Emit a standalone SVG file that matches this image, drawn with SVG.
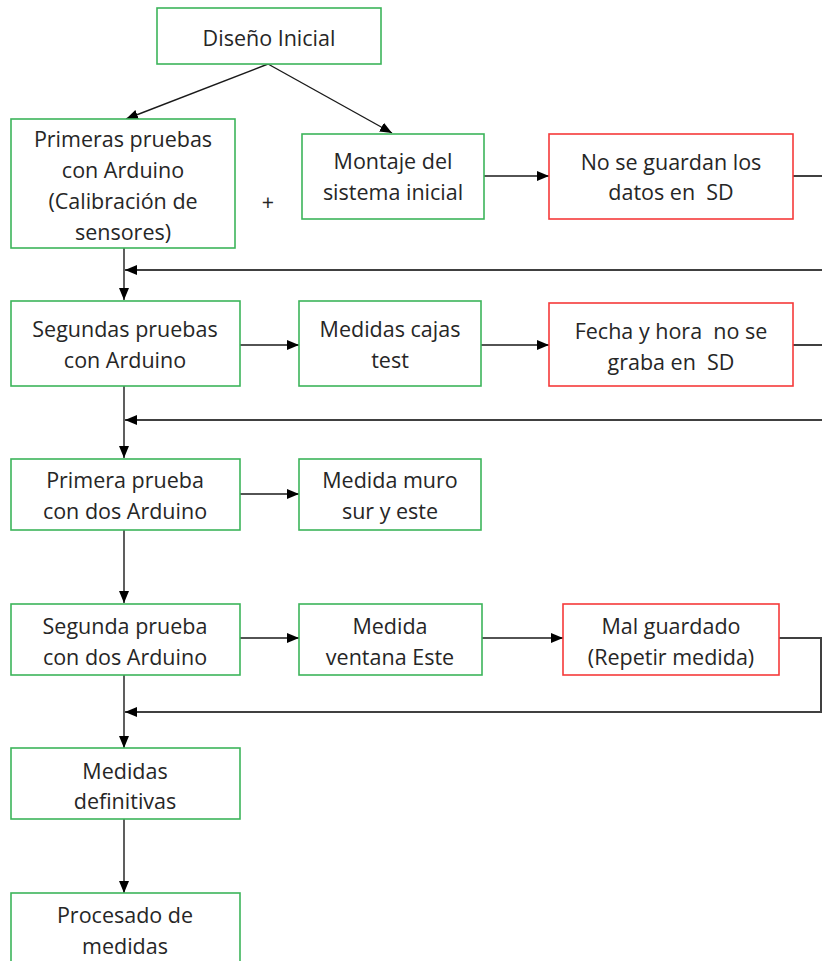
<svg xmlns="http://www.w3.org/2000/svg" width="822" height="961" viewBox="0 0 822 961">
<style>
.g{fill:#fff;stroke:#3cb55a;stroke-width:1.6}
.r{fill:#fff;stroke:#f53a3a;stroke-width:1.6}
text{font-family:"Open Sans","Liberation Sans",Arial,sans-serif;font-size:21.5px;fill:#262626;text-anchor:middle;dominant-baseline:central}
.c{fill:none;stroke:#1a1a1a;stroke-width:1.4}
.f{fill:none;stroke:#404040;stroke-width:2}
</style>
<defs>
<marker id="a" markerUnits="userSpaceOnUse" markerWidth="12" markerHeight="10" refX="12" refY="5" orient="auto"><path d="M0,0L12,5L0,10z" fill="#000"/></marker>
</defs>
<rect width="822" height="961" fill="#fff"/>
<g id="connectors">
<path class="c" d="M268,64L126,119" marker-end="url(#a)"/>
<path class="c" d="M268,64L392,133" marker-end="url(#a)"/>
<path class="c" d="M484,176H549" marker-end="url(#a)"/>
<path class="f" d="M793,176H830V270H125" marker-end="url(#a)"/>
<path class="c" d="M124,248V300" marker-end="url(#a)"/>
<path class="c" d="M240,345H299" marker-end="url(#a)"/>
<path class="c" d="M481,345H549" marker-end="url(#a)"/>
<path class="f" d="M793,345H830V420H125" marker-end="url(#a)"/>
<path class="c" d="M124,386V458" marker-end="url(#a)"/>
<path class="c" d="M240,494H299" marker-end="url(#a)"/>
<path class="c" d="M124,530V603" marker-end="url(#a)"/>
<path class="c" d="M240,638H299" marker-end="url(#a)"/>
<path class="c" d="M482,638H563" marker-end="url(#a)"/>
<path class="f" d="M779,638H821V712H125" marker-end="url(#a)"/>
<path class="c" d="M124,675V748" marker-end="url(#a)"/>
<path class="c" d="M124,819V893" marker-end="url(#a)"/>
</g>
<g id="n1"><rect class="g" x="157" y="8" width="224" height="56"/><text x="269" y="37">Diseño Inicial</text></g>
<g id="n2"><rect class="g" x="11" y="119" width="224" height="129"/><text x="123" y="138">Primeras pruebas</text><text x="123" y="169">con Arduino</text><text x="123" y="200">(Calibración de</text><text x="123" y="231">sensores)</text></g>
<text x="268" y="201">+</text>
<g id="n3"><rect class="g" x="302" y="134" width="182" height="85"/><text x="393" y="160">Montaje del</text><text x="393" y="191">sistema inicial</text></g>
<g id="n4"><rect class="r" x="549" y="134" width="244" height="85"/><text x="671" y="161">No se guardan los</text><text x="671" y="191" xml:space="preserve">datos en  SD</text></g>
<g id="n5"><rect class="g" x="11" y="301" width="229" height="85"/><text x="125" y="328">Segundas pruebas</text><text x="125" y="359">con Arduino</text></g>
<g id="n6"><rect class="g" x="299" y="301" width="182" height="85"/><text x="390" y="328">Medidas cajas</text><text x="390" y="359">test</text></g>
<g id="n7"><rect class="r" x="549" y="303" width="244" height="83"/><text x="671" y="330" xml:space="preserve">Fecha y hora  no se</text><text x="671" y="361" xml:space="preserve">graba en  SD</text></g>
<g id="n8"><rect class="g" x="11" y="459" width="229" height="71"/><text x="125" y="479">Primera prueba</text><text x="125" y="510">con dos Arduino</text></g>
<g id="n9"><rect class="g" x="299" y="459" width="182" height="71"/><text x="390" y="479">Medida muro</text><text x="390" y="510">sur y este</text></g>
<g id="n10"><rect class="g" x="11" y="604" width="229" height="71"/><text x="125" y="625">Segunda prueba</text><text x="125" y="656">con dos Arduino</text></g>
<g id="n11"><rect class="g" x="299" y="604" width="183" height="71"/><text x="390" y="625">Medida</text><text x="390" y="656">ventana Este</text></g>
<g id="n12"><rect class="r" x="563" y="604" width="216" height="71"/><text x="671" y="625">Mal guardado</text><text x="671" y="656">(Repetir medida)</text></g>
<g id="n13"><rect class="g" x="11" y="748" width="229" height="71"/><text x="125" y="770">Medidas</text><text x="125" y="800">definitivas</text></g>
<g id="n14"><rect class="g" x="11" y="893" width="229" height="80"/><text x="125" y="914">Procesado de</text><text x="125" y="945">medidas</text></g>
</svg>
